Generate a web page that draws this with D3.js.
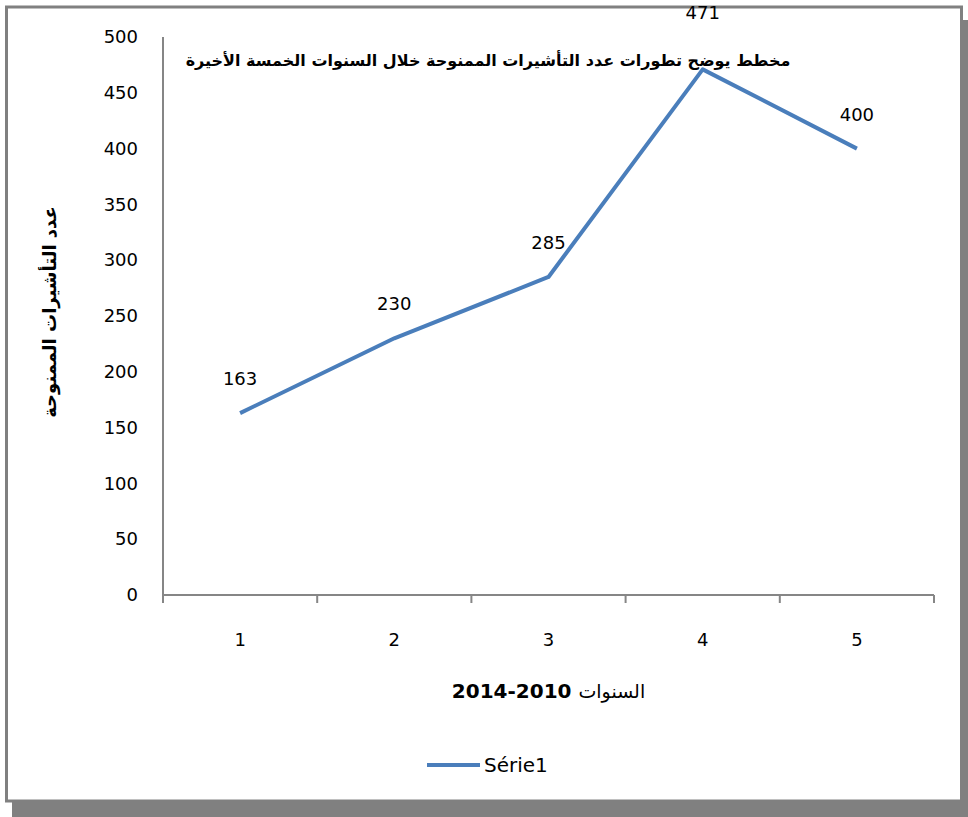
<!DOCTYPE html>
<html>
<head>
<meta charset="utf-8">
<script src="https://cdn.jsdelivr.net/npm/d3@7"></script>
<style>
    body { margin: 0; background: #fff; }
    text { font-family: "DejaVu Sans", sans-serif; }
</style>
</head>
<body>
<div id="chart"></div>
<script>
// data
const years = [1, 2, 3, 4, 5];
const visas = [163, 230, 285, 471, 400];
const yTicks = [0, 50, 100, 150, 200, 250, 300, 350, 400, 450, 500];
const seriesName = "Série1";
const chartTitle = "مخطط يوضح تطورات عدد التأشيرات الممنوحة خلال السنوات الخمسة الأخيرة";
const yTitle = "عدد التأشيرات الممنوحة";
const xTitleWord = "السنوات";
const xTitleYears = "2014-2010";

const W = 968, H = 817;
const plot = { left: 163, right: 934, top: 37, bottom: 595 };

const svg = d3.select("#chart")
    .append("svg")
    .attr("width", W)
    .attr("height", H);

// drop shadow + frame
svg.append("rect")
    .attr("x", 12).attr("y", 20)
    .attr("width", W - 12).attr("height", H - 20)
    .attr("fill", "#808080");
svg.append("rect")
    .attr("x", 6.5).attr("y", 7)
    .attr("width", 955).attr("height", 794)
    .attr("fill", "#fff")
    .attr("stroke", "#808080")
    .attr("stroke-width", 3);

const x = d3.scaleBand()
    .domain(years)
    .range([plot.left, plot.right]);

const y = d3.scaleLinear()
    .domain([0, 500])
    .range([plot.bottom, plot.top]);

// Y axis
const yAxis = svg.append("g")
    .attr("transform", `translate(${plot.left},0)`)
    .call(d3.axisLeft(y).tickValues(yTicks).tickSize(0).tickPadding(25));
yAxis.select(".domain").attr("stroke", "#868686").attr("stroke-width", 2)
    .attr("d", `M0,${plot.top}V${plot.bottom + 8}`);
yAxis.selectAll("text").attr("font-size", 18).attr("fill", "#000")
    .attr("font-family", "DejaVu Sans");

// X axis
const xAxis = svg.append("g")
    .attr("transform", `translate(0,${plot.bottom})`)
    .call(d3.axisBottom(x).tickSize(0).tickPadding(38));
xAxis.select(".domain").attr("stroke", "#868686").attr("stroke-width", 2)
    .attr("d", `M${plot.left},0H${plot.right}`);
xAxis.selectAll("text").attr("font-size", 18).attr("fill", "#000")
    .attr("font-family", "DejaVu Sans");
// category boundary ticks
xAxis.selectAll(".bound")
    .data(years)
    .enter()
    .append("line")
    .attr("x1", d => x(d) + x.bandwidth())
    .attr("x2", d => x(d) + x.bandwidth())
    .attr("y1", 0).attr("y2", 8)
    .attr("stroke", "#868686").attr("stroke-width", 2);

// line
const line = d3.line()
    .x((d, i) => x(years[i]) + x.bandwidth() / 2)
    .y(d => y(d));

svg.append("path")
    .datum(visas)
    .attr("d", line)
    .attr("fill", "none")
    .attr("stroke", "#4a7ebb")
    .attr("stroke-width", 4)
    .attr("stroke-linejoin", "round");

// data labels (the top one gets pushed up past the title)
svg.selectAll(".lbl")
    .data(visas)
    .enter()
    .append("text")
    .attr("x", (d, i) => x(years[i]) + x.bandwidth() / 2)
    .attr("y", d => d === d3.max(visas) ? 19 : y(d) - 28)
    .attr("text-anchor", "middle")
    .attr("font-size", 18)
    .attr("fill", "#000")
    .text(d => d);

// title
svg.append("text")
    .attr("x", 488)
    .attr("y", 66)
    .attr("text-anchor", "middle")
    .attr("direction", "rtl")
    .attr("font-size", 16)
    .attr("font-weight", "bold")
    .text(chartTitle);

// Y axis label
svg.append("text")
    .attr("transform", `translate(56,312) rotate(-90)`)
    .attr("text-anchor", "middle")
    .attr("direction", "rtl")
    .attr("font-size", 18)
    .attr("font-weight", "bold")
    .text(yTitle);

// X axis label: years on the left (bold), word on the right
const xt = svg.append("text")
    .attr("x", (plot.left + plot.right) / 2)
    .attr("y", 698)
    .attr("text-anchor", "middle")
    .attr("font-size", 20);
xt.append("tspan").attr("font-weight", "bold").text(xTitleYears + " ");
xt.append("tspan").attr("font-size", 19).text(xTitleWord);

// legend
svg.append("line")
    .attr("x1", 427).attr("x2", 480)
    .attr("y1", 765).attr("y2", 765)
    .attr("stroke", "#4a7ebb")
    .attr("stroke-width", 4);
svg.append("text")
    .attr("x", 484)
    .attr("y", 772)
    .attr("font-size", 20)
    .attr("fill", "#000")
    .text(seriesName);
</script>
</body>
</html>
